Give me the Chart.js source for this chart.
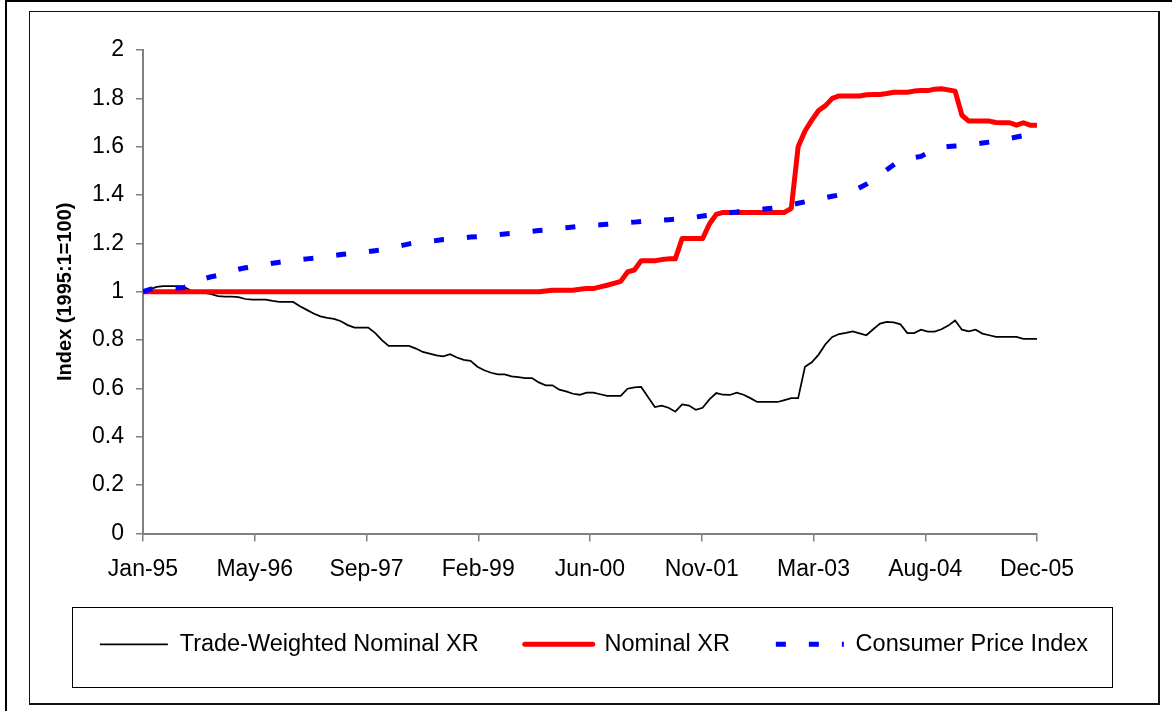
<!DOCTYPE html>
<html>
<head>
<meta charset="utf-8">
<title>Exchange rate index</title>
<script src="https://cdn.jsdelivr.net/npm/chart.js"></script>
<style>
  html, body { margin: 0; padding: 0; background: #fff; }
  #frame { position: absolute; left: 5px; top: 0; width: 1167px; height: 711px; border-left: 2px solid #000; border-top: 2px solid #000; box-sizing: border-box; }
  #plot { position: absolute; left: 29px; top: 11px; width: 1131px; height: 694px; border: 1px solid #111; border-right-width: 2px; border-bottom-width: 2px; box-sizing: border-box; }
  #plot canvas { position: absolute; left: 0; top: 0; }
</style>
</head>
<body>
<div id="frame"></div>
<div id="plot"><canvas id="xrchart" width="1128" height="691"></canvas></div>
<script>
// monthly values, Jan-95 .. Dec-05 (index 1995:1 = 1)
var tradeWeighted = [
  1.000, 1.010, 1.020, 1.023, 1.023, 1.023, 1.020, 1.005, 1.000, 0.995,
  0.990, 0.982, 0.980, 0.980, 0.978, 0.970, 0.967, 0.967, 0.967, 0.962,
  0.958, 0.958, 0.958, 0.940, 0.925, 0.910, 0.898, 0.892, 0.888, 0.878,
  0.862, 0.852, 0.852, 0.852, 0.830, 0.800, 0.776, 0.776, 0.776, 0.776,
  0.765, 0.751, 0.744, 0.737, 0.733, 0.742, 0.728, 0.718, 0.714, 0.690,
  0.675, 0.665, 0.658, 0.658, 0.650, 0.647, 0.643, 0.643, 0.625, 0.613,
  0.613, 0.595, 0.588, 0.578, 0.574, 0.583, 0.583, 0.576, 0.569, 0.569,
  0.569, 0.599, 0.604, 0.606, 0.565, 0.523, 0.529, 0.520, 0.504, 0.534,
  0.529, 0.512, 0.520, 0.555, 0.581, 0.574, 0.573, 0.583, 0.574, 0.560,
  0.544, 0.544, 0.544, 0.544, 0.552, 0.560, 0.560, 0.690, 0.708, 0.740,
  0.783, 0.813, 0.825, 0.830, 0.836, 0.828, 0.820, 0.845, 0.868, 0.875,
  0.873, 0.865, 0.829, 0.829, 0.843, 0.835, 0.835, 0.845, 0.860, 0.881,
  0.843, 0.836, 0.843, 0.827, 0.820, 0.813, 0.813, 0.813, 0.813, 0.805,
  0.805, 0.805
];
var nominalXR = [
  1.000, 1.000, 1.000, 1.000, 1.000, 1.000, 1.000, 1.000, 1.000, 1.000,
  1.000, 1.000, 1.000, 1.000, 1.000, 1.000, 1.000, 1.000, 1.000, 1.000,
  1.000, 1.000, 1.000, 1.000, 1.000, 1.000, 1.000, 1.000, 1.000, 1.000,
  1.000, 1.000, 1.000, 1.000, 1.000, 1.000, 1.000, 1.000, 1.000, 1.000,
  1.000, 1.000, 1.000, 1.000, 1.000, 1.000, 1.000, 1.000, 1.000, 1.000,
  1.000, 1.000, 1.000, 1.000, 1.000, 1.000, 1.000, 1.000, 1.000, 1.003,
  1.006, 1.006, 1.006, 1.006, 1.010, 1.013, 1.013, 1.020, 1.027, 1.035,
  1.043, 1.082, 1.090, 1.128, 1.128, 1.128, 1.133, 1.136, 1.136, 1.220,
  1.220, 1.220, 1.220, 1.280, 1.320, 1.328, 1.328, 1.328, 1.328, 1.328,
  1.328, 1.328, 1.328, 1.328, 1.328, 1.345, 1.600, 1.665, 1.710, 1.750,
  1.770, 1.800, 1.810, 1.810, 1.810, 1.810, 1.815, 1.816, 1.816, 1.820,
  1.825, 1.825, 1.825, 1.830, 1.832, 1.832, 1.838, 1.840, 1.835, 1.830,
  1.730, 1.706, 1.706, 1.706, 1.706, 1.700, 1.699, 1.699, 1.689, 1.699,
  1.689, 1.689
];
var cpi = [
  1.000, 1.010, 1.013, 1.014, 1.015, 1.016, 1.018, 1.025, 1.040, 1.055,
  1.062, 1.068, 1.075, 1.085, 1.093, 1.099, 1.103, 1.108, 1.113, 1.118,
  1.122, 1.126, 1.129, 1.133, 1.136, 1.139, 1.143, 1.147, 1.150, 1.154,
  1.157, 1.160, 1.163, 1.166, 1.170, 1.174, 1.180, 1.186, 1.192, 1.198,
  1.202, 1.205, 1.209, 1.212, 1.216, 1.218, 1.220, 1.223, 1.226, 1.228,
  1.231, 1.233, 1.236, 1.239, 1.241, 1.244, 1.247, 1.250, 1.253, 1.256,
  1.259, 1.262, 1.265, 1.268, 1.271, 1.273, 1.275, 1.277, 1.279, 1.281,
  1.283, 1.286, 1.288, 1.291, 1.293, 1.295, 1.296, 1.298, 1.300, 1.301,
  1.305, 1.309, 1.313, 1.317, 1.320, 1.323, 1.327, 1.330, 1.334, 1.336,
  1.339, 1.342, 1.345, 1.349, 1.354, 1.360, 1.366, 1.372, 1.378, 1.383,
  1.389, 1.395, 1.400, 1.406, 1.415, 1.430, 1.445, 1.465, 1.485, 1.505,
  1.525, 1.545, 1.552, 1.555, 1.560, 1.575, 1.592, 1.598, 1.601, 1.603,
  1.605, 1.607, 1.611, 1.615, 1.619, 1.623, 1.628, 1.634, 1.640, 1.646,
  1.653, 1.660
];

var xTickLabels = ['Jan-95', 'May-96', 'Sep-97', 'Feb-99', 'Jun-00', 'Nov-01', 'Mar-03', 'Aug-04', 'Dec-05'];
var yTickLabels = ['0', '0.2', '0.4', '0.6', '0.8', '1', '1.2', '1.4', '1.6', '1.8', '2'];

function toPoints(values) {
  return values.map(function (v, i) { return { x: i, y: v }; });
}

var lastMonth = tradeWeighted.length - 1;
var fontFamily = "'Liberation Sans', Arial, sans-serif";
var axisGrey = '#808080';

// box drawn around the legend items
var legendFrame = {
  id: 'legendFrame',
  afterDraw: function (chart) {
    var lg = chart.legend;
    if (!lg || !lg.legendHitBoxes || !lg.legendHitBoxes.length) return;
    var boxes = lg.legendHitBoxes;
    var left = Math.min.apply(null, boxes.map(function (b) { return b.left; })) - 28;
    var right = Math.max.apply(null, boxes.map(function (b) { return b.left + b.width; })) + 24;
    var cy = boxes[0].top + boxes[0].height / 2;
    var ctx = chart.ctx;
    ctx.save();
    ctx.strokeStyle = '#000';
    ctx.lineWidth = 1;
    ctx.setLineDash([]);
    ctx.strokeRect(Math.round(left) + 0.5, Math.round(cy - 37) + 0.5, Math.round(right - left), 80);
    ctx.restore();
  }
};

var ctx = document.getElementById('xrchart');

var chart = new Chart(ctx, {
  type: 'line',
  data: {
    datasets: [
      {
        label: 'Trade-Weighted Nominal XR',
        data: toPoints(tradeWeighted),
        borderColor: '#000000',
        backgroundColor: '#000000',
        borderWidth: 1.75,
        pointRadius: 0,
        order: 3
      },
      {
        label: 'Nominal XR',
        data: toPoints(nominalXR),
        borderColor: '#ff0000',
        backgroundColor: '#ff0000',
        borderWidth: 5,
        borderCapStyle: 'round',
        borderJoinStyle: 'round',
        pointRadius: 0,
        order: 2
      },
      {
        label: 'Consumer Price Index',
        data: toPoints(cpi),
        borderColor: '#0000ff',
        backgroundColor: '#0000ff',
        borderWidth: 5,
        borderDash: [10, 23],
        borderCapStyle: 'butt',
        pointRadius: 0,
        order: 1
      }
    ]
  },
  options: {
    responsive: false,
    animation: false,
    events: [],
    layout: { padding: { top: 38, bottom: 37, left: 0, right: 0 } },
    plugins: {
      tooltip: { enabled: false },
      legend: {
        position: 'bottom',
        maxHeight: 80,
        labels: {
          usePointStyle: true,
          pointStyle: 'line',
          pointStyleWidth: 68,
          padding: 46,
          color: '#000',
          font: { family: fontFamily, size: 23.5 },
          sort: function (a, b) { return a.datasetIndex - b.datasetIndex; },
          generateLabels: function (chart) {
            var items = Chart.defaults.plugins.legend.labels.generateLabels(chart);
            items.forEach(function (it) {
              var ds = chart.data.datasets[it.datasetIndex];
              it.lineDash = ds.borderDash || [];
              it.lineCap = ds.borderCapStyle || 'butt';
              it.lineWidth = ds.borderWidth;
              it.strokeStyle = ds.borderColor;
            });
            return items;
          }
        }
      }
    },
    scales: {
      x: {
        type: 'linear',
        min: 0,
        max: lastMonth,
        afterBuildTicks: function (scale) {
          scale.ticks = xTickLabels.map(function (t, k) {
            return { value: k * lastMonth / (xTickLabels.length - 1) };
          });
        },
        afterFit: function (scale) { scale.height = 53; },
        grid: { drawOnChartArea: false, drawTicks: true, tickLength: 8, color: axisGrey, lineWidth: 1.5 },
        border: { display: true, color: axisGrey, width: 2 },
        ticks: {
          autoSkip: false,
          maxRotation: 0,
          padding: 14,
          color: '#000',
          font: { family: fontFamily, size: 23 },
          callback: function (v, i) { return xTickLabels[i]; }
        }
      },
      y: {
        min: 0,
        max: 2,
        afterFit: function (scale) { scale.width = 113; },
        grid: { drawOnChartArea: false, drawTicks: true, tickLength: 7, color: axisGrey, lineWidth: 1.5 },
        border: { display: true, color: axisGrey, width: 2 },
        ticks: {
          stepSize: 0.2,
          padding: 12,
          color: '#000',
          font: { family: fontFamily, size: 23 },
          callback: function (v, i) { return yTickLabels[i]; }
        },
        title: {
          display: true,
          text: 'Index (1995:1=100)',
          color: '#000',
          font: { family: fontFamily, size: 20, weight: 'bold' },
          padding: { top: 23, bottom: 0 }
        }
      },
      spacer: {
        type: 'linear',
        position: 'right',
        display: true,
        afterFit: function (scale) { scale.width = 121; },
        grid: { display: false },
        border: { display: false },
        ticks: { display: false }
      }
    }
  },
  plugins: [legendFrame]
});
</script>
</body>
</html>
